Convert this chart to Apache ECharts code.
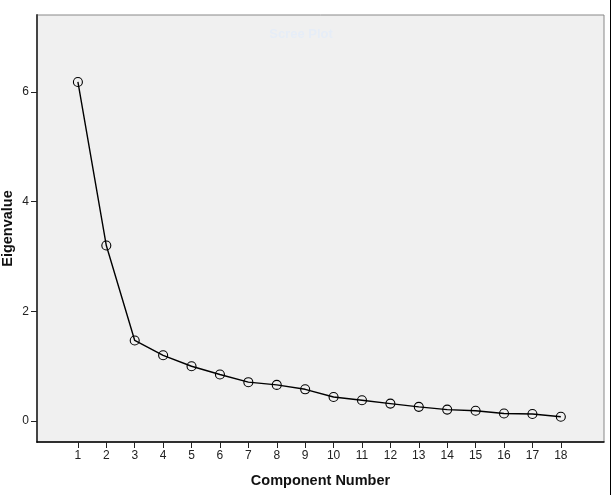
<!DOCTYPE html>
<html>
<head>
<meta charset="utf-8">
<script src="https://cdn.jsdelivr.net/npm/echarts@6/dist/echarts.min.js"></script>
<style>html,body{margin:0;padding:0;background:#fff;}#c{width:612px;height:495px;}</style>
</head>
<body>
<div id="c"></div>
<script>
const components = [1,2,3,4,5,6,7,8,9,10,11,12,13,14,15,16,17,18];
const eigenvalues = [6.18,3.20,1.47,1.20,1.00,0.85,0.71,0.66,0.58,0.44,0.38,0.32,0.26,0.21,0.19,0.14,0.13,0.08];
const yTicks = [0,2,4,6];
const xTicks = components;

const chart = echarts.init(document.getElementById('c'), null, {renderer:'canvas'});
chart.setOption({
  animation:false,
  backgroundColor:'#ffffff',
  title:{text:'Scree Plot', left:296, top:23, textAlign:'center',
    textStyle:{color:'#e6edf7', fontSize:13, fontWeight:'bold', fontFamily:'Liberation Sans'}},
  graphic:[{type:'line', shape:{x1:610.5,y1:0,x2:610.5,y2:495}, style:{stroke:'#000', lineWidth:1}}],
  grid:{left:37, top:15, right:8, bottom:53, outerBoundsMode:'none', containLabel:false,
    show:true, backgroundColor:'#f0f0f0', borderColor:'#888', borderWidth:1},
  xAxis:{type:'value', min:-0.44, max:19.52,
    name:'Component Number', nameLocation:'middle', nameGap:31, nameMoveOverlap:false,
    nameTextStyle:{fontFamily:'Liberation Sans', fontWeight:'bold', fontSize:14.5, color:'#111'},
    axisLine:{show:true, onZero:false, lineStyle:{color:'#000', width:1.5}},
    axisTick:{show:true, length:6, customValues:xTicks, lineStyle:{color:'#222'}},
    axisLabel:{customValues:xTicks, margin:8, fontFamily:'Liberation Sans', fontSize:12, color:'#222'},
    splitLine:{show:false}},
  yAxis:{type:'value', min:-0.38, max:7.4,
    name:'Eigenvalue', nameLocation:'middle', nameGap:22, nameRotate:90, nameMoveOverlap:false,
    nameTextStyle:{fontFamily:'Liberation Sans', fontWeight:'bold', fontSize:14.5, color:'#111'},
    axisLine:{show:true, onZero:false, lineStyle:{color:'#444', width:2}},
    axisTick:{show:true, length:6, customValues:yTicks, lineStyle:{color:'#222'}},
    axisLabel:{customValues:yTicks, margin:8, fontFamily:'Liberation Sans', fontSize:12, color:'#222'},
    splitLine:{show:false}},
  series:[{type:'line', data:components.map((c,i)=>[c, eigenvalues[i]]),
    lineStyle:{color:'#000', width:1.4},
    symbol:'circle', symbolSize:9,
    itemStyle:{color:'rgba(0,0,0,0)', borderColor:'#000', borderWidth:1.1}}]
});
</script>
</body>
</html>
